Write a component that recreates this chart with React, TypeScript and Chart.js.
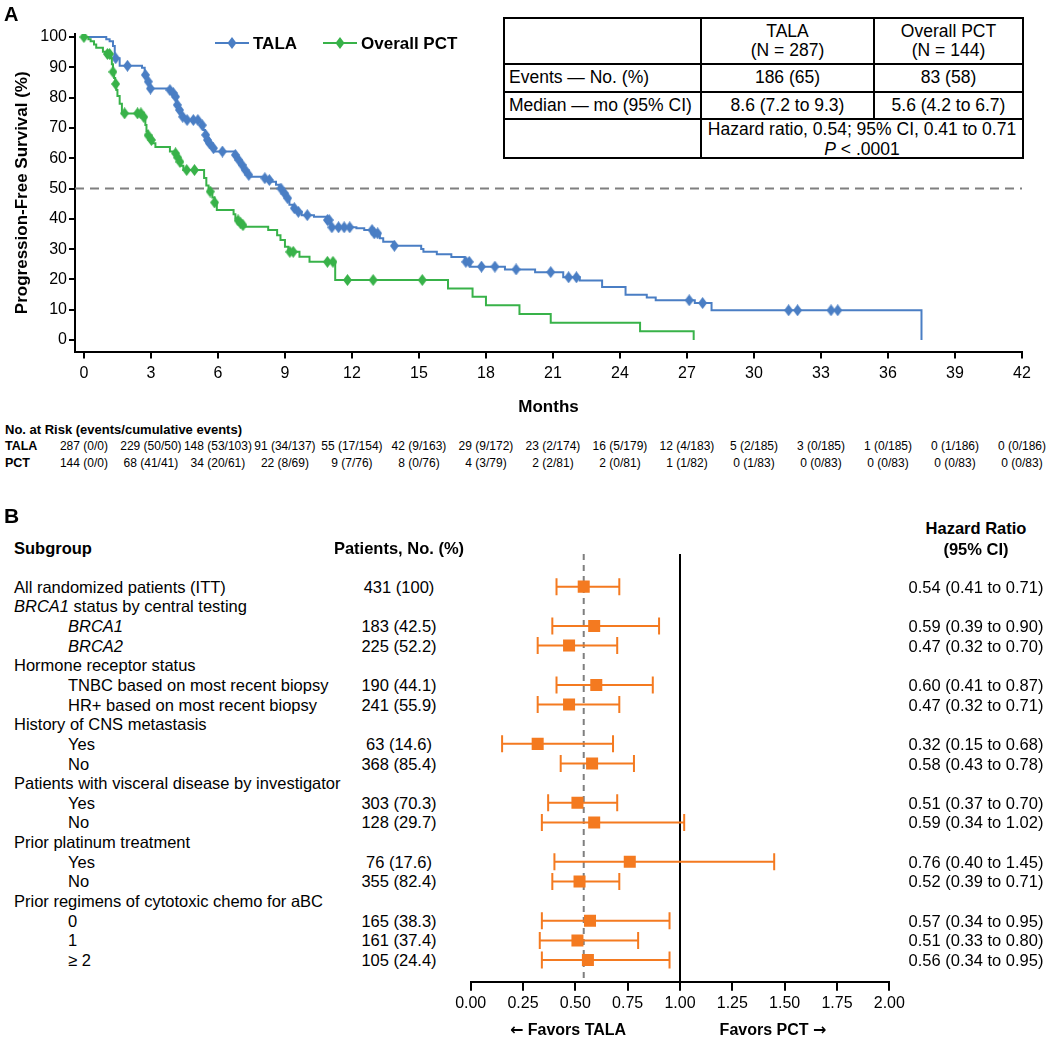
import React, { useEffect, useRef, useState } from 'react';
import { Chart, registerables } from 'chart.js';

Chart.register(...registerables);

const FONT = '"Liberation Sans", Arial, Helvetica, sans-serif';
const ARROW_FONT = '"DejaVu Sans", "Liberation Sans", sans-serif';
const BLUE = '#4a7ec4';
const GREEN = '#38b249';
const ORANGE = '#f47a20';
const GREY = '#7f7f7f';

// ---------------- Panel A data ----------------
const monthTicks = [0, 3, 6, 9, 12, 15, 18, 21, 24, 27, 30, 33, 36, 39, 42];
const pfsTicks = [0, 10, 20, 30, 40, 50, 60, 70, 80, 90, 100];
const medianLevel = 50;

const talaTimes = [0, 1.0, 1.15, 1.3, 1.38, 1.6, 2.6, 2.72, 2.84, 2.96, 3.75, 3.95, 4.08, 4.15, 4.22, 4.37, 4.52, 5.2, 5.27, 5.35, 5.42, 5.5, 5.57, 5.72, 5.87, 6.72, 6.85, 7.0, 7.15, 7.3, 7.45, 8.05, 8.2, 8.4, 8.6, 8.75, 8.9, 9.05, 9.2, 9.35, 9.5, 9.75, 10.3, 10.85, 11.05, 12.2, 12.55, 12.95, 13.25, 13.4, 13.85, 15.1, 15.2, 15.8, 16.45, 17.05, 17.3, 18.85, 20.2, 21.46, 22.2, 23.2, 24.25, 25.2, 25.6, 27.35, 28.1, 37.5];
const talaPFS = [100, 99.3, 98.6, 97, 93, 90.5, 89.9, 87.5, 85.3, 83, 82.5, 81.5, 80.3, 77.6, 75.9, 73.7, 72.6, 72, 70.9, 69.3, 67.7, 66, 64.9, 63.3, 62.2, 61.1, 59.4, 57.8, 56.1, 54.5, 53.9, 53.4, 52.8, 52.2, 51.2, 50, 48.4, 46.8, 44.6, 43.5, 42.3, 41.2, 40.7, 39.6, 37.2, 36.9, 36.3, 35.2, 33.6, 32.4, 31.1, 30, 29.1, 28.3, 27.4, 25.8, 24.2, 23.3, 22.4, 20.7, 19.6, 17.5, 14.9, 14, 13.1, 12.2, 9.8, 0];
const talaCensorTimes = [1.42, 1.95, 2.75, 2.88, 2.98, 3.85, 4.0, 4.1, 4.18, 4.28, 4.42, 4.62, 4.9, 5.1, 5.3, 5.45, 5.53, 5.62, 5.8, 6.2, 6.78, 6.93, 7.08, 7.22, 7.38, 8.1, 8.3, 8.82, 8.98, 9.12, 9.42, 9.6, 10.0, 10.9, 10.98, 11.1, 11.4, 11.65, 11.9, 12.9, 13.0, 13.15, 13.9, 17.1, 17.25, 17.8, 18.4, 19.35, 20.9, 21.7, 22.05, 27.1, 27.7, 31.55, 31.95, 33.45, 33.75];
const talaCensorPFS = [93, 90.5, 87.5, 85.3, 83, 82.5, 81.5, 80.3, 77.6, 75.9, 73.7, 72.6, 72.6, 72.6, 70.9, 67.7, 66, 64.9, 63.3, 62.2, 61.1, 59.4, 57.8, 56.1, 54.5, 53.4, 52.8, 50, 48.4, 46.8, 43.5, 42.3, 41.2, 39.6, 39.6, 37.2, 37.2, 37.2, 37.2, 36.3, 35.2, 35.2, 31.1, 25.8, 25.8, 24.2, 24.2, 23.3, 22.4, 20.7, 20.7, 13.1, 12.2, 9.8, 9.8, 9.8, 9.8];

const pctTimes = [0, 0.2, 0.3, 0.45, 0.55, 0.85, 1.0, 1.2, 1.25, 1.3, 1.35, 1.4, 1.45, 1.5, 1.6, 1.7, 2.65, 2.75, 2.8, 2.85, 2.95, 3.05, 3.2, 3.85, 4.05, 4.12, 4.22, 4.32, 4.45, 5.38, 5.48, 5.58, 5.75, 5.85, 5.95, 6.7, 6.78, 6.85, 6.95, 7.05, 7.15, 8.25, 8.65, 8.8, 9.0, 9.15, 9.65, 10.1, 11.25, 16.3, 17.4, 18.0, 19.5, 20.9, 24.9, 27.3];
const pctPFS = [100, 99.3, 98.6, 97.5, 96.5, 95.1, 94.4, 93, 91, 88.5, 86.5, 84.5, 82.5, 80.5, 78, 74.8, 73.6, 71, 69, 67.6, 66, 64.9, 63.7, 62.2, 61.6, 60.2, 58.8, 57.5, 56.1, 53.5, 51, 49, 47, 45.4, 42.9, 41.5, 40.2, 39.5, 38.5, 37.9, 37.4, 36.3, 34.6, 33, 30.8, 29.1, 27.5, 25.8, 19.8, 17.0, 14.3, 11.5, 8.6, 5.7, 2.9, 0];
const pctCensorTimes = [0, 1.05, 1.15, 1.3, 1.42, 1.82, 2.4, 2.55, 2.68, 2.87, 3.02, 4.1, 4.2, 4.3, 4.6, 4.95, 5.65, 5.85, 6.9, 7.02, 7.12, 9.22, 9.37, 10.9, 11.15, 11.8, 12.95, 15.15];
const pctCensorPFS = [100, 94.4, 94.4, 88.5, 84.5, 74.8, 74.8, 74.8, 73.6, 67.6, 66, 61.6, 60.2, 58.8, 56.1, 56.1, 49, 45.4, 39.5, 38.5, 37.9, 29.1, 29.1, 25.8, 25.8, 19.8, 19.8, 19.8];

const riskTALA = ['287 (0/0)', '229 (50/50)', '148 (53/103)', '91 (34/137)', '55 (17/154)', '42 (9/163)', '29 (9/172)', '23 (2/174)', '16 (5/179)', '12 (4/183)', '5 (2/185)', '3 (0/185)', '1 (0/185)', '0 (1/186)', '0 (0/186)'];
const riskPCT = ['144 (0/0)', '68 (41/41)', '34 (20/61)', '22 (8/69)', '9 (7/76)', '8 (0/76)', '4 (3/79)', '2 (2/81)', '2 (0/81)', '1 (1/82)', '0 (1/83)', '0 (0/83)', '0 (0/83)', '0 (0/83)', '0 (0/83)'];

// ---------------- Panel B data ----------------
const subgroupLabels = [
  'All randomized patients (ITT)',
  'BRCA1 status by central testing',
  'BRCA1',
  'BRCA2',
  'Hormone receptor status',
  'TNBC based on most recent biopsy',
  'HR+ based on most recent biopsy',
  'History of CNS metastasis',
  'Yes',
  'No',
  'Patients with visceral disease by investigator',
  'Yes',
  'No',
  'Prior platinum treatment',
  'Yes',
  'No',
  'Prior regimens of cytotoxic chemo for aBC',
  '0',
  '1',
  '\u2265 2',
];
const subgroupIndent = [0, 0, 1, 1, 0, 1, 1, 0, 1, 1, 0, 1, 1, 0, 1, 1, 0, 1, 1, 1];
const patientCounts = ['431 (100)', '', '183 (42.5)', '225 (52.2)', '', '190 (44.1)', '241 (55.9)', '', '63 (14.6)', '368 (85.4)', '', '303 (70.3)', '128 (29.7)', '', '76 (17.6)', '355 (82.4)', '', '165 (38.3)', '161 (37.4)', '105 (24.4)'];
const hrPoint = [0.54, null, 0.59, 0.47, null, 0.60, 0.47, null, 0.32, 0.58, null, 0.51, 0.59, null, 0.76, 0.52, null, 0.57, 0.51, 0.56];
const hrLow = [0.41, null, 0.39, 0.32, null, 0.41, 0.32, null, 0.15, 0.43, null, 0.37, 0.34, null, 0.40, 0.39, null, 0.34, 0.33, 0.34];
const hrHigh = [0.71, null, 0.90, 0.70, null, 0.87, 0.71, null, 0.68, 0.78, null, 0.70, 1.02, null, 1.45, 0.71, null, 0.95, 0.80, 0.95];
const hrTicks = [0, 0.25, 0.5, 0.75, 1, 1.25, 1.5, 1.75, 2];
const nullHR = 1;

const FP_LEFT = 440;
const FP_TOP = 530;
const FOREST_FONT = 16.5;
const RISK_FONT = 12;

function makeDiamond(color: string, w = 9, h = 12) {
  const c = document.createElement('canvas');
  c.width = w;
  c.height = h;
  const g = c.getContext('2d')!;
  g.fillStyle = color;
  g.beginPath();
  g.moveTo(w / 2, 0);
  g.lineTo(w, h / 2);
  g.lineTo(w / 2, h);
  g.lineTo(0, h / 2);
  g.closePath();
  g.fill();
  return c;
}

const zip = (xs: number[], ys: number[]) => xs.map((x, i) => ({ x, y: ys[i] }));

type TxtProps = {
  x: number;
  y: number;
  size?: number;
  bold?: boolean;
  italic?: boolean;
  align?: 'left' | 'center' | 'right';
  children: React.ReactNode;
};

function Txt({ x, y, size = 16, bold, italic, align = 'left', children }: TxtProps) {
  const tx = align === 'left' ? '0' : align === 'center' ? '-50%' : '-100%';
  return (
    <div
      style={{
        position: 'absolute',
        left: x,
        top: y,
        transform: `translate(${tx}, -50%)`,
        fontSize: size,
        lineHeight: `${size}px`,
        fontWeight: bold ? 700 : 400,
        fontStyle: italic ? 'italic' : 'normal',
        whiteSpace: 'nowrap',
      }}
    >
      {children}
    </div>
  );
}

function renderLabel(label: string) {
  const m = label.match(/^(BRCA\d)(.*)$/);
  if (m) {
    return (
      <>
        <i>{m[1]}</i>
        {m[2]}
      </>
    );
  }
  return label;
}

function LegendItem({ x, y, color, label }: { x: number; y: number; color: string; label: string }) {
  return (
    <>
      <svg style={{ position: 'absolute', left: x, top: y - 7 }} width={34} height={14}>
        <line x1={0} y1={7} x2={34} y2={7} stroke={color} strokeWidth={2} />
        <polygon points="17,1 21.5,7 17,13 12.5,7" fill={color} />
      </svg>
      <Txt x={x + 38} y={y} size={17} bold>
        {label}
      </Txt>
    </>
  );
}

export default function App() {
  const kmRef = useRef<HTMLCanvasElement>(null);
  const fpRef = useRef<HTMLCanvasElement>(null);
  const [riskX, setRiskX] = useState<number[]>([]);
  const [rowY, setRowY] = useState<number[]>([]);

  useEffect(() => {
    Chart.defaults.font.family = FONT;
    Chart.defaults.color = '#000';

    const talaDiamond = makeDiamond(BLUE);
    const pctDiamond = makeDiamond(GREEN);

    const km = new Chart(kmRef.current!, {
      type: 'scatter',
      data: {
        datasets: [
          {
            label: 'Overall PCT censored',
            data: zip(pctCensorTimes, pctCensorPFS),
            showLine: false,
            pointStyle: pctDiamond as any,
            pointRadius: 5,
          },
          {
            label: 'Overall PCT',
            data: zip(pctTimes, pctPFS),
            showLine: true,
            stepped: 'before',
            borderColor: GREEN,
            borderWidth: 2,
            pointRadius: 0,
            fill: false,
          },
          {
            label: 'TALA censored',
            data: zip(talaCensorTimes, talaCensorPFS),
            showLine: false,
            pointStyle: talaDiamond as any,
            pointRadius: 5,
          },
          {
            label: 'TALA',
            data: zip(talaTimes, talaPFS),
            showLine: true,
            stepped: 'before',
            borderColor: BLUE,
            borderWidth: 2,
            pointRadius: 0,
            fill: false,
          },
          {
            label: 'Median',
            data: [
              { x: -0.4, y: medianLevel },
              { x: 42, y: medianLevel },
            ],
            showLine: true,
            borderColor: GREY,
            borderWidth: 2,
            borderDash: [9, 6],
            pointRadius: 0,
          },
        ],
      },
      options: {
        responsive: false,
        animation: false,
        devicePixelRatio: 1,
        events: [],
        layout: { padding: { left: 0, right: 28, top: 34, bottom: 0 } },
        plugins: { legend: { display: false }, tooltip: { enabled: false } },
        scales: {
          x: {
            type: 'linear',
            min: -0.4,
            max: 42,
            afterBuildTicks: (s: any) => {
              s.ticks = monthTicks.map((v) => ({ value: v }));
            },
            afterFit: (s: any) => {
              s.height = 68.5;
            },
            ticks: { font: { size: 16 }, color: '#000', padding: 5, autoSkip: false, maxRotation: 0 },
            grid: { drawOnChartArea: false, drawTicks: true, tickLength: 7, color: '#000', lineWidth: 2, tickColor: '#000', tickWidth: 2 },
            border: { display: true, color: '#000', width: 2 },
            title: { display: true, text: 'Months', font: { size: 17, weight: 'bold' }, color: '#000', padding: { top: 0, bottom: 2 } },
          },
          y: {
            type: 'linear',
            min: -3.8,
            max: 101,
            afterBuildTicks: (s: any) => {
              s.ticks = pfsTicks.map((v) => ({ value: v }));
            },
            afterFit: (s: any) => {
              s.width = 75;
            },
            ticks: { font: { size: 16 }, color: '#000', padding: 2, autoSkip: false },
            grid: { drawOnChartArea: false, drawTicks: true, tickLength: 6, color: '#000', lineWidth: 2, tickColor: '#000', tickWidth: 2 },
            border: { display: true, color: '#000', width: 2 },
            title: {
              display: true,
              text: 'Progression-Free Survival (%)',
              font: { size: 17, weight: 'bold' },
              color: '#000',
              padding: { top: 12, bottom: 0 },
            },
          },
        },
      },
    } as any);

    const forestPlugin = {
      id: 'forestWhiskers',
      beforeDatasetsDraw(chart: any) {
        const { ctx, chartArea, scales } = chart;
        const x = scales.x;
        const y = scales.y;
        ctx.save();
        const x1 = x.getPixelForValue(nullHR);
        ctx.strokeStyle = '#000';
        ctx.lineWidth = 2;
        ctx.beginPath();
        ctx.moveTo(x1, chartArea.top);
        ctx.lineTo(x1, chartArea.bottom);
        ctx.stroke();
        const xo = x.getPixelForValue(hrPoint[0] as number);
        ctx.strokeStyle = GREY;
        ctx.setLineDash([6, 5]);
        ctx.beginPath();
        ctx.moveTo(xo, chartArea.top);
        ctx.lineTo(xo, chartArea.bottom);
        ctx.stroke();
        ctx.setLineDash([]);
        ctx.strokeStyle = ORANGE;
        ctx.lineWidth = 2;
        hrLow.forEach((lo, i) => {
          const hi = hrHigh[i];
          if (lo == null || hi == null) return;
          const yy = y.getPixelForValue(i);
          const a = x.getPixelForValue(lo);
          const b = x.getPixelForValue(hi);
          ctx.beginPath();
          ctx.moveTo(a, yy);
          ctx.lineTo(b, yy);
          ctx.moveTo(a, yy - 8.5);
          ctx.lineTo(a, yy + 8.5);
          ctx.moveTo(b, yy - 8.5);
          ctx.lineTo(b, yy + 8.5);
          ctx.stroke();
        });
        ctx.restore();
      },
    };

    const fp = new Chart(fpRef.current!, {
      type: 'scatter',
      data: {
        datasets: [
          {
            label: 'Hazard ratio',
            data: hrPoint
              .map((v, i) => (v == null ? null : { x: v, y: i }))
              .filter((p) => p !== null) as any,
            pointStyle: 'rect',
            pointRadius: 8.5,
            backgroundColor: ORANGE,
            borderWidth: 0,
            showLine: false,
          },
        ],
      },
      options: {
        responsive: false,
        animation: false,
        devicePixelRatio: 1,
        events: [],
        layout: { padding: { left: 30.7, right: 20.7, top: 24, bottom: 0 } },
        plugins: { legend: { display: false }, tooltip: { enabled: false } },
        scales: {
          x: {
            type: 'linear',
            min: 0,
            max: 2,
            afterBuildTicks: (s: any) => {
              s.ticks = hrTicks.map((v) => ({ value: v }));
            },
            afterFit: (s: any) => {
              s.height = 55.3;
            },
            ticks: {
              font: { size: 16 },
              color: '#000',
              padding: 3,
              autoSkip: false,
              maxRotation: 0,
              callback: (v: any) => Number(v).toFixed(2),
            },
            grid: { drawOnChartArea: false, drawTicks: true, tickLength: 9, color: '#000', lineWidth: 2, tickColor: '#000', tickWidth: 2 },
            border: { display: true, color: '#000', width: 2 },
          },
          y: {
            type: 'linear',
            display: false,
            reverse: true,
            min: -1.66,
            max: 20.1,
          },
        },
      },
      plugins: [forestPlugin],
    } as any);

    setRiskX(monthTicks.map((m) => km.scales.x.getPixelForValue(m)));
    setRowY(subgroupLabels.map((_, i) => FP_TOP + fp.scales.y.getPixelForValue(i)));

    return () => {
      km.destroy();
      fp.destroy();
    };
  }, []);

  const cellBase: React.CSSProperties = {
    boxSizing: 'border-box',
    display: 'flex',
    flexDirection: 'column',
    alignItems: 'center',
    justifyContent: 'center',
    lineHeight: '19.5px',
    textAlign: 'center',
  };
  const rb = '2px solid #000';

  return (
    <div
      style={{
        position: 'absolute',
        left: 0,
        top: 0,
        width: 1050,
        height: 1037,
        background: '#fff',
        fontFamily: FONT,
        color: '#000',
        overflow: 'hidden',
      }}
    >
      {/* Panel A */}
      <canvas ref={kmRef} width={1050} height={420} style={{ position: 'absolute', left: 0, top: 0, width: 1050, height: 420 }} />
      <Txt x={4} y={14} size={20} bold>
        A
      </Txt>
      <LegendItem x={215} y={43} color={BLUE} label="TALA" />
      <LegendItem x={323} y={43} color={GREEN} label="Overall PCT" />

      <div
        style={{
          position: 'absolute',
          left: 503,
          top: 17,
          width: 521,
          height: 142,
          boxSizing: 'border-box',
          border: '2px solid #000',
          display: 'grid',
          gridTemplateColumns: '197px 173px 1fr',
          gridTemplateRows: '46px 28px 27px 1fr',
          fontSize: 17.5,
          background: '#fff',
        }}
      >
        <div style={{ ...cellBase, borderRight: rb, borderBottom: rb }} />
        <div style={{ ...cellBase, borderRight: rb, borderBottom: rb }}>
          <div>TALA</div>
          <div>(N = 287)</div>
        </div>
        <div style={{ ...cellBase, borderBottom: rb }}>
          <div>Overall PCT</div>
          <div>(N = 144)</div>
        </div>
        <div style={{ ...cellBase, alignItems: 'flex-start', paddingLeft: 4, borderRight: rb, borderBottom: rb, whiteSpace: 'nowrap' }}>
          Events — No. (%)
        </div>
        <div style={{ ...cellBase, borderRight: rb, borderBottom: rb }}>186 (65)</div>
        <div style={{ ...cellBase, borderBottom: rb }}>83 (58)</div>
        <div style={{ ...cellBase, alignItems: 'flex-start', paddingLeft: 4, borderRight: rb, borderBottom: rb, whiteSpace: 'nowrap' }}>
          Median — mo (95% CI)
        </div>
        <div style={{ ...cellBase, borderRight: rb, borderBottom: rb }}>8.6 (7.2 to 9.3)</div>
        <div style={{ ...cellBase, borderBottom: rb }}>5.6 (4.2 to 6.7)</div>
        <div style={{ ...cellBase, borderRight: rb }} />
        <div style={{ ...cellBase, gridColumn: '2 / 4', whiteSpace: 'nowrap' }}>
          <div>Hazard ratio, 0.54; 95% CI, 0.41 to 0.71</div>
          <div>
            <i>P</i> &lt; .0001
          </div>
        </div>
      </div>

      {/* Number at risk */}
      <Txt x={5} y={429} size={13} bold>
        No. at Risk (events/cumulative events)
      </Txt>
      <Txt x={5} y={446} size={12.5} bold>
        TALA
      </Txt>
      <Txt x={5} y={463} size={12.5} bold>
        PCT
      </Txt>
      {riskX.map((x, i) => (
        <React.Fragment key={'r' + i}>
          <Txt x={x} y={446} size={RISK_FONT} align="center">
            {riskTALA[i]}
          </Txt>
          <Txt x={x} y={463} size={RISK_FONT} align="center">
            {riskPCT[i]}
          </Txt>
        </React.Fragment>
      ))}

      {/* Panel B */}
      <canvas
        ref={fpRef}
        width={470}
        height={507}
        style={{ position: 'absolute', left: FP_LEFT, top: FP_TOP, width: 470, height: 507 }}
      />
      <Txt x={4} y={515} size={21} bold>
        B
      </Txt>
      <Txt x={14} y={548} size={FOREST_FONT} bold>
        Subgroup
      </Txt>
      <Txt x={399} y={548} size={FOREST_FONT} bold align="center">
        Patients, No. (%)
      </Txt>
      <Txt x={976} y={528} size={FOREST_FONT} bold align="center">
        Hazard Ratio
      </Txt>
      <Txt x={976} y={549} size={FOREST_FONT} bold align="center">
        (95% CI)
      </Txt>
      {rowY.map((y, i) => (
        <React.Fragment key={'s' + i}>
          <Txt x={subgroupIndent[i] ? 68 : 14} y={y} size={FOREST_FONT} italic={/^BRCA\d$/.test(subgroupLabels[i])}>
            {/^BRCA\d$/.test(subgroupLabels[i]) ? subgroupLabels[i] : renderLabel(subgroupLabels[i])}
          </Txt>
          {patientCounts[i] ? (
            <Txt x={399} y={y} size={FOREST_FONT} align="center">
              {patientCounts[i]}
            </Txt>
          ) : null}
          {hrPoint[i] != null ? (
            <Txt x={976} y={y} size={FOREST_FONT} align="center">
              {`${(hrPoint[i] as number).toFixed(2)} (${(hrLow[i] as number).toFixed(2)} to ${(hrHigh[i] as number).toFixed(2)})`}
            </Txt>
          ) : null}
        </React.Fragment>
      ))}
      <Txt x={568} y={1030} size={16} bold align="center">
        <span style={{ fontFamily: ARROW_FONT }}>←</span> Favors TALA
      </Txt>
      <Txt x={773} y={1030} size={16} bold align="center">
        Favors PCT <span style={{ fontFamily: ARROW_FONT }}>→</span>
      </Txt>
    </div>
  );
}
